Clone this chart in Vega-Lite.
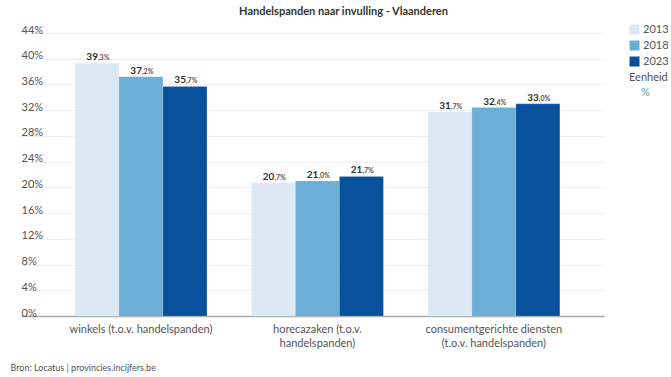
{
  "$schema": "https://vega.github.io/schema/vega-lite/v6.json",
  "width": 583,
  "height": 283,
  "autosize": {"type": "none"},
  "padding": {"left": 21, "top": 33, "right": 67, "bottom": 61},
  "background": "white",
  "title": {
    "text": "Handelspanden naar invulling - Vlaanderen",
    "fontSize": 11,
    "fontWeight": "bold",
    "font": "Lato",
    "color": "#333333",
    "anchor": "middle",
    "dx": 31,
    "offset": 7
  },
  "config": {
    "font": "Lato",
    "view": {"stroke": null}
  },
  "data": {
    "values": [
      {"cat": "winkels (t.o.v. handelspanden)", "year": "2013", "value": 39.3},
      {"cat": "winkels (t.o.v. handelspanden)", "year": "2018", "value": 37.2},
      {"cat": "winkels (t.o.v. handelspanden)", "year": "2023", "value": 35.7},
      {"cat": "horecazaken (t.o.v. handelspanden)", "year": "2013", "value": 20.7},
      {"cat": "horecazaken (t.o.v. handelspanden)", "year": "2018", "value": 21.0},
      {"cat": "horecazaken (t.o.v. handelspanden)", "year": "2023", "value": 21.7},
      {"cat": "consumentgerichte diensten (t.o.v. handelspanden)", "year": "2013", "value": 31.7},
      {"cat": "consumentgerichte diensten (t.o.v. handelspanden)", "year": "2018", "value": 32.4},
      {"cat": "consumentgerichte diensten (t.o.v. handelspanden)", "year": "2023", "value": 33.0}
    ]
  },
  "transform": [
    {"calculate": "format(floor(datum.value), 'd')", "as": "intPart"},
    {"calculate": "',' + format(round((datum.value - floor(datum.value)) * 10), 'd') + '%'", "as": "decPart"}
  ],
  "encoding": {
    "x": {
      "field": "cat",
      "type": "nominal",
      "sort": null,
      "scale": {"paddingInner": 0.252, "paddingOuter": 0.278, "align": 0.55},
      "axis": {
        "title": "Bron: Locatus | provincies.incijfers.be",
        "titleX": -11,
        "titleY": 51,
        "titleAlign": "left",
        "titleBaseline": "middle",
        "titleFontSize": 9,
        "titleFontWeight": "normal",
        "titleColor": "#555555",
        "labelAngle": 0,
        "labelFontSize": 11,
        "labelColor": "#555555",
        "labelPadding": 7,
        "labelLimit": 300,
        "labelLineHeight": 14,
        "labelExpr": "datum.value == 'horecazaken (t.o.v. handelspanden)' ? ['horecazaken (t.o.v.', 'handelspanden)'] : datum.value == 'consumentgerichte diensten (t.o.v. handelspanden)' ? ['consumentgerichte diensten', '(t.o.v. handelspanden)'] : datum.value",
        "ticks": false,
        "domainColor": "#aaaaaa",
        "domainWidth": 1.5
      }
    },
    "xOffset": {"field": "year", "type": "nominal"},
    "y": {
      "field": "value",
      "type": "quantitative",
      "scale": {"domain": [0, 44], "nice": false},
      "axis": {
        "values": [0, 4, 8, 12, 16, 20, 24, 28, 32, 36, 40, 44],
        "labelExpr": "datum.value + '%'",
        "labelAlign": "left",
        "labelPadding": 0,
        "labelBaseline": "alphabetic",
        "labelDy": -4,
        "labelOverlap": false,
        "labelFontSize": 11,
        "labelColor": "#555555",
        "ticks": false,
        "domain": false,
        "gridColor": "#eeeeee",
        "title": "%",
        "titleX": 624,
        "titleY": 59,
        "titleAngle": 0,
        "titleAlign": "center",
        "titleBaseline": "middle",
        "titleFontSize": 11,
        "titleFontWeight": "normal",
        "titleColor": "#5f9ea0"
      }
    }
  },
  "layer": [
    {
      "mark": {"type": "bar", "stroke": "#ffffff", "strokeWidth": 0.5, "strokeOpacity": 0.3},
      "encoding": {
        "color": {
          "field": "year",
          "type": "nominal",
          "scale": {"domain": ["2013", "2018", "2023"], "range": ["#dce9f5", "#6baed6", "#08519c"]},
          "legend": {
            "orient": "none",
            "legendX": 608,
            "legendY": -9,
            "title": "Eenheid",
            "titleOrient": "bottom",
            "titleFontSize": 11,
            "titleFontWeight": "normal",
            "titleColor": "#555555",
            "titlePadding": 5,
            "symbolType": "square",
            "symbolSize": 100,
            "symbolStrokeWidth": 0,
            "symbolOpacity": 1,
            "labelFontSize": 11,
            "labelColor": "#555555",
            "labelOffset": 3,
            "rowPadding": 4
          }
        }
      }
    },
    {
      "mark": {"type": "text", "align": "right", "baseline": "alphabetic", "dy": -3, "dx": 1, "fontSize": 10, "fontWeight": "bold", "color": "#333333"},
      "encoding": {
        "text": {"field": "intPart"}
      }
    },
    {
      "mark": {"type": "text", "align": "left", "baseline": "alphabetic", "dy": -3, "dx": 1, "fontSize": 7, "fontWeight": "bold", "color": "#555555"},
      "encoding": {
        "text": {"field": "decPart"}
      }
    }
  ]
}
